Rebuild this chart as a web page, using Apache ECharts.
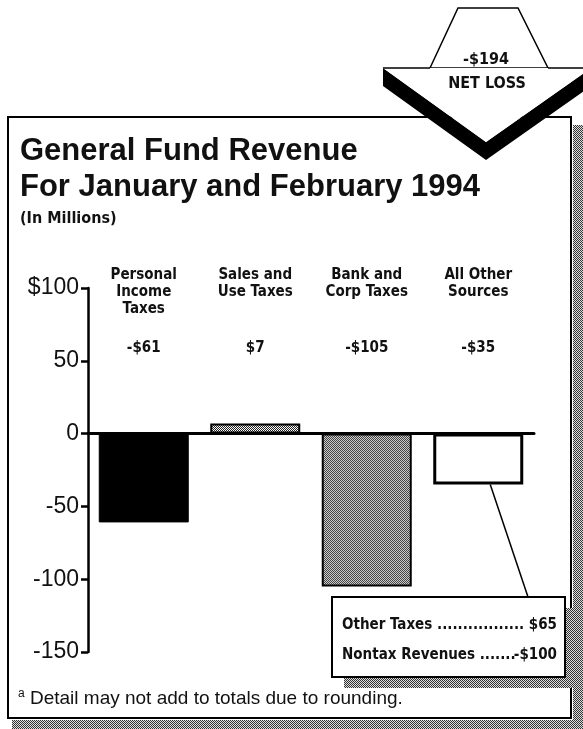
<!DOCTYPE html>
<html>
<head>
<meta charset="utf-8">
<script src="https://cdn.jsdelivr.net/npm/echarts@6/dist/echarts.min.js"></script>
<style>
  html, body { margin: 0; padding: 0; background: #fff; }
  #chart { width: 583px; height: 729px; }
</style>
</head>
<body>
<div id="chart"></div>
<script>
// 数据
var categories = ['Personal\nIncome\nTaxes', 'Sales and\nUse Taxes', 'Bank and\nCorp Taxes', 'All Other\nSources']
var values = [-61, 7, -105, -35]
var valueLabels = ['-$61', '$7', '-$105', '-$35']
var detailNames = ['Other Taxes', 'Nontax Revenues']
var detailValues = ['$65', '-$100']
var netLoss = '-$194'

var narrow = '"Liberation Sans Narrow", "DejaVu Sans Condensed", sans-serif'
var sans = '"Liberation Sans", Arial, sans-serif'

// 网点图案
function makePattern(dark, light) {
  var c = document.createElement('canvas')
  c.width = 2; c.height = 2
  var ctx = c.getContext('2d')
  ctx.fillStyle = light; ctx.fillRect(0, 0, 2, 2)
  ctx.fillStyle = dark; ctx.fillRect(0, 0, 1, 1); ctx.fillRect(1, 1, 1, 1)
  return { image: c, repeat: 'repeat' }
}
var denseDots = makePattern('#222', '#fff')
var bankDots = makePattern('#444', '#ccc')
var shadowDots = makePattern('#333', '#ddd')

var myChart = echarts.init(document.getElementById('chart'))

var barColors = [
  { color: '#000', borderColor: '#000', borderWidth: 1 },
  { color: denseDots, borderColor: '#000', borderWidth: 2 },
  { color: bankDots, borderColor: '#000', borderWidth: 2 },
  { color: '#fff', borderColor: '#000', borderWidth: 3 }
]

var option = {
  animation: false,
  grid: { left: 88, width: 446, top: 288, bottom: 77 },
  xAxis: [{
    type: 'category',
    data: categories,
    axisLine: { onZero: true, lineStyle: { color: '#000', width: 3 } },
    axisTick: { show: false },
    axisLabel: { show: false }
  }, {
    type: 'category',
    position: 'top',
    data: categories,
    axisLine: { show: false },
    axisTick: { show: false },
    axisLabel: {
      margin: 21, verticalAlign: 'top', color: '#111',
      fontFamily: narrow, fontWeight: 'bold', fontSize: 15, lineHeight: 17
    }
  }, {
    type: 'category',
    position: 'top',
    offset: -60,
    data: valueLabels,
    axisLine: { show: false },
    axisTick: { show: false },
    axisLabel: {
      margin: 0, verticalAlign: 'middle', color: '#111',
      fontFamily: narrow, fontWeight: 'bold', fontSize: 15
    }
  }],
  yAxis: {
    type: 'value',
    min: -150,
    max: 100,
    interval: 50,
    splitLine: { show: false },
    axisLine: { show: true, lineStyle: { color: '#000', width: 2.5 } },
    axisTick: { show: true, length: 7, lineStyle: { color: '#000', width: 2.5 } },
    axisLabel: {
      margin: 9, color: '#111', fontFamily: sans, fontSize: 23,
      formatter: function (v) { return v === 100 ? '$100' : String(v) }
    }
  },
  series: [{
    type: 'bar',
    barWidth: 90,
    data: values.map(function (v, i) { return { value: v, itemStyle: barColors[i] } })
  }]
}

myChart.setOption(option)

// 说明框和箭头
var p = myChart.convertToPixel({ xAxisIndex: 0, yAxisIndex: 0 }, [3, values[3]])
var boxL = 332, boxT = 597, boxW = 233, boxH = 80

myChart.setOption({
  graphic: [
    // 外框
    { type: 'rect', z: 1, shape: { x: 573, y: 125, width: 10, height: 604 }, style: { fill: shadowDots } },
    { type: 'rect', z: 1, shape: { x: 12, y: 720, width: 571, height: 9 }, style: { fill: shadowDots } },
    { type: 'rect', z: 2, shape: { x: 8, y: 117, width: 563, height: 601 }, style: { fill: 'none', stroke: '#000', lineWidth: 2 } },
    // 标题
    { type: 'text', z: 5, left: 20, top: 136, style: { text: 'General Fund Revenue', font: 'bold 31px ' + sans, fill: '#111' } },
    { type: 'text', z: 5, left: 20, top: 172, style: { text: 'For January and February 1994', font: 'bold 31px ' + sans, fill: '#111' } },
    { type: 'text', z: 5, left: 20, top: 211, style: { text: '(In Millions)', font: 'bold 16px ' + narrow, fill: '#111' } },
    // 净亏损箭头
    { type: 'polygon', z: 6, shape: { points: [[383, 68], [486, 142], [591, 68], [591, 86], [486, 160], [383, 86]] }, style: { fill: '#000' } },
    { type: 'polygon', z: 6, shape: { points: [[430, 68], [458, 8], [518, 8], [548, 68]] }, style: { fill: '#fff', stroke: '#000', lineWidth: 1.5 } },
    { type: 'polygon', z: 7, shape: { points: [[383, 68], [591, 68], [486, 142]] }, style: { fill: '#fff' } },
    { type: 'line', z: 7, shape: { x1: 383, y1: 68, x2: 430, y2: 68 }, style: { stroke: '#000', lineWidth: 1.5 } },
    { type: 'line', z: 7, shape: { x1: 548, y1: 68, x2: 583, y2: 68 }, style: { stroke: '#000', lineWidth: 1.5 } },
    { type: 'text', z: 8, x: 486, y: 60, style: { text: netLoss, font: 'bold 16px ' + narrow, fill: '#111', align: 'center', verticalAlign: 'middle' } },
    { type: 'text', z: 8, x: 487, y: 84, style: { text: 'NET LOSS', font: 'bold 16px ' + narrow, fill: '#111', align: 'center', verticalAlign: 'middle' } },
    // 引线
    { type: 'line', z: 5, shape: { x1: p[0] + 12, y1: p[1], x2: 528, y2: boxT }, style: { stroke: '#000', lineWidth: 1.5 } },
    // 明细框
    { type: 'rect', z: 4, shape: { x: boxL + 12, y: boxT + 11, width: boxW, height: boxH }, style: { fill: shadowDots } },
    { type: 'rect', z: 5, shape: { x: boxL, y: boxT, width: boxW, height: boxH }, style: { fill: '#fff', stroke: '#000', lineWidth: 2 } },
    { type: 'text', z: 6, x: boxL + 10, y: boxT + 28, style: { text: detailNames[0] + ' .................', font: 'bold 15px ' + narrow, fill: '#111', verticalAlign: 'middle' } },
    { type: 'text', z: 6, x: boxL + boxW - 8, y: boxT + 28, style: { text: detailValues[0], font: 'bold 15px ' + narrow, fill: '#111', align: 'right', verticalAlign: 'middle' } },
    { type: 'text', z: 6, x: boxL + 10, y: boxT + 58, style: { text: detailNames[1] + ' .......', font: 'bold 15px ' + narrow, fill: '#111', verticalAlign: 'middle' } },
    { type: 'text', z: 6, x: boxL + boxW - 8, y: boxT + 58, style: { text: detailValues[1], font: 'bold 15px ' + narrow, fill: '#111', align: 'right', verticalAlign: 'middle' } },
    // 脚注
    {
      type: 'text', z: 5, left: 18, top: 688,
      style: {
        text: '{s|a} Detail may not add to totals due to rounding.',
        font: '19px ' + sans, fill: '#111',
        rich: { s: { fontSize: 12, fontFamily: sans, verticalAlign: 'top', padding: [0, 0, 9, 0] } }
      }
    }
  ]
})

window.addEventListener('resize', function () { myChart.resize() })
</script>
</body>
</html>
